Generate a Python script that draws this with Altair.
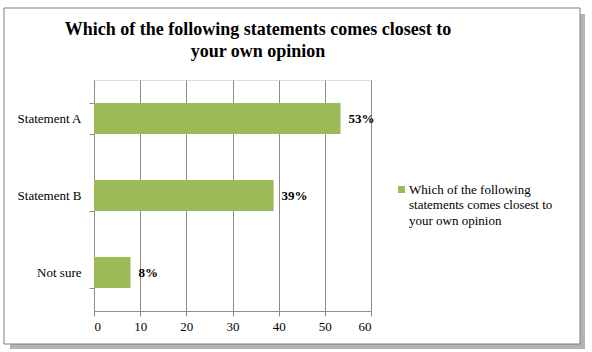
import altair as alt
import pandas as pd

categories = ["Statement  A", "Statement  B", "Not sure"]
values = [53.4, 38.9, 7.9]
labels = ["53%", "39%", "8%"]
series = "Which of the following statements comes closest to your own opinion"
legend_lines = ["Which of the following", "statements  comes closest to", "your own opinion"]
title_lines = ["Which of the following statements comes closest to", "your own opinion"]

df = pd.DataFrame({"cat": categories, "val": values, "lab": labels, "series": [series] * 3})

FONT = "Liberation Serif"
W, H = 277, 231

one = pd.DataFrame({"k": [0]})
shadow_r = alt.Chart(one).mark_rect(color="#b3b3b3").encode(
    x=alt.value(486), x2=alt.value(491), y=alt.value(-66), y2=alt.value(269)
)
shadow_b = alt.Chart(one).mark_rect(color="#b3b3b3").encode(
    x=alt.value(-84), x2=alt.value(491), y=alt.value(264), y2=alt.value(269)
)
frame = alt.Chart(one).mark_rect(fill=None, stroke="#7f7f7f", strokeWidth=1).encode(
    x=alt.value(-90), x2=alt.value(486), y=alt.value(-72), y2=alt.value(264)
)
title = alt.Chart(one).mark_text(
    text=title_lines, font=FONT, fontSize=18, fontWeight="bold", color="#000",
    align="center", baseline="alphabetic", lineHeight=22
).encode(x=alt.value(164), y=alt.value(-45))

base = alt.Chart(df)
bars = base.mark_bar(color="#9BBB59").encode(
    x=alt.X("val:Q", scale=alt.Scale(domain=[0, 60]),
            axis=alt.Axis(values=[0, 10, 20, 30, 40, 50, 60], title=None, grid=True,
                          gridColor="#8c8c8c", domainColor="#8c8c8c", tickColor="#8c8c8c",
                          tickSize=5, labelFont=FONT, labelFontSize=13, labelColor="#000",
                          labelPadding=4)),
    y=alt.Y("cat:N", sort=categories,
            scale=alt.Scale(paddingInner=0.6, paddingOuter=0.3),
            axis=alt.Axis(title=None, tickBand="extent", domainColor="#8c8c8c",
                          tickColor="#8c8c8c", tickSize=5, labelFont=FONT, labelFontSize=13,
                          labelColor="#000", labelPadding=8)),
)
text = base.mark_text(align="left", dx=8, font=FONT, fontSize=13, fontWeight="bold",
                      color="#000").encode(
    x="val:Q", y=alt.Y("cat:N", sort=categories), text="lab:N"
)

leg_df = pd.DataFrame({"series": [series]})
leg_sym = alt.Chart(leg_df).mark_square(size=49, color="#9BBB59", opacity=1).encode(
    x=alt.value(307.5), y=alt.value(109.5)
)
leg_txt = alt.Chart(leg_df).mark_text(
    text=legend_lines, font=FONT, fontSize=13, color="#000", align="left",
    baseline="middle", lineHeight=15.5
).encode(x=alt.value(315), y=alt.value(109.5))

chart = alt.layer(shadow_r, shadow_b, frame, title, bars, text, leg_sym, leg_txt).properties(
    width=W, height=H,
    padding={"left": 94, "top": 80, "right": 221, "bottom": 41},
    autosize=alt.AutoSizeParams(type="none"),
).configure_view(stroke=None).configure(background="white")

chart.save("out.html", embed_options={"renderer": "svg", "actions": False})
